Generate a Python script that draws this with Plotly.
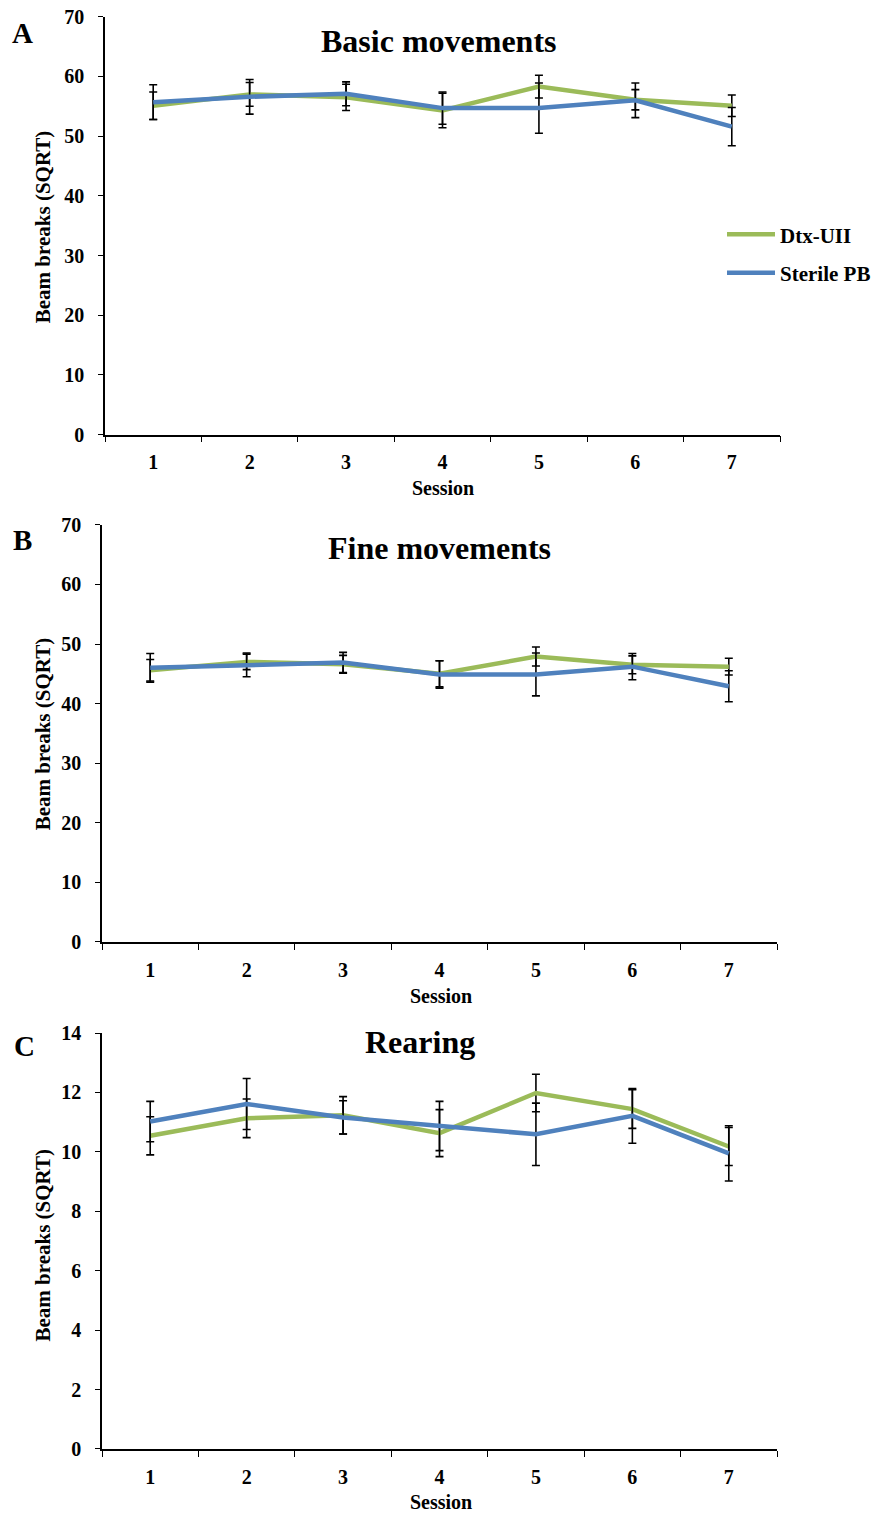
import plotly.graph_objects as go

sessions = ["1", "2", "3", "4", "5", "6", "7"]

dtx_basic = [55.1, 57.0, 56.5, 54.3, 58.3, 56.1, 55.1]
dtx_basic_err = [2.3, 2.0, 2.2, 2.9, 1.9, 1.7, 1.8]
pb_basic = [55.7, 56.6, 57.1, 54.7, 54.7, 56.0, 51.6]
pb_basic_err = [2.9, 2.9, 2.0, 2.7, 4.2, 2.9, 3.2]

dtx_fine = [45.6, 47.0, 46.6, 45.0, 47.9, 46.5, 46.2]
dtx_fine_err = [1.8, 1.3, 1.5, 2.2, 1.6, 1.5, 1.4]
pb_fine = [46.0, 46.5, 46.9, 44.9, 44.9, 46.2, 42.9]
pb_fine_err = [2.4, 2.0, 1.7, 2.3, 3.6, 2.2, 2.6]

dtx_rear = [10.54, 11.13, 11.23, 10.63, 11.98, 11.44, 10.18]
dtx_rear_err = [0.64, 0.65, 0.63, 0.79, 0.63, 0.65, 0.64]
pb_rear = [11.02, 11.61, 11.16, 10.87, 10.59, 11.21, 9.95]
pb_rear_err = [0.68, 0.86, 0.56, 0.83, 1.05, 0.92, 0.93]

panels = [
    ("A", "Basic movements", dtx_basic, dtx_basic_err, pb_basic, pb_basic_err, 70, 10),
    ("B", "Fine movements", dtx_fine, dtx_fine_err, pb_fine, pb_fine_err, 70, 10),
    ("C", "Rearing", dtx_rear, dtx_rear_err, pb_rear, pb_rear_err, 14, 2),
]

GREEN = "#9BBB59"
BLUE = "#4F81BD"
FONT = "Liberation Serif"
W, H = 886, 1515


def py(y):
    # pixel row (from top) -> paper fraction, with small vertical correction
    yc = 733 + (y - 733) * 1.017
    return 1 - yc / H


# pixel layout per panel: (x0, x1, ytop, ybottom)
boxes = [(105, 780, 18, 435), (102, 777, 525, 941), (102, 777, 1032, 1447)]
title_pos = [(439, 42), (439, 548), (420, 1041)]
letter_pos = [(22, 34), (22, 540), (24, 1045)]
ytitle_pos = [(43, 228), (43, 734), (43, 1244)]
session_pos = [(443, 488), (441, 995), (441, 1500)]

fig = go.Figure()
annotations = []

for i, (letter, title, g, ge, b, be, ymax, dt) in enumerate(panels):
    n = "" if i == 0 else str(i + 1)
    xa, ya = "x" + n, "y" + n
    for name, vals, errs, color in (("Dtx-UII", g, ge, GREEN), ("Sterile PB", b, be, BLUE)):
        fig.add_trace(go.Scatter(
            x=sessions, y=vals, mode="lines", name=name,
            line=dict(color=color, width=4.5),
            error_y=dict(type="data", array=errs, visible=True, color="black", thickness=1.6, width=4),
            xaxis=xa, yaxis=ya, showlegend=(i == 0), legendgroup=name,
        ))
    x0, x1, yt, yb = boxes[i]
    axis_common = dict(showgrid=False, zeroline=False, showline=True, linecolor="black", linewidth=1.5,
                       ticks="outside", tickcolor="black", tickwidth=1.3,
                       tickfont=dict(family=FONT, size=20, color="black", weight="bold"))
    fig.update_layout(**{
        ("xaxis" + n): dict(domain=[x0 / W, x1 / W], anchor=ya, type="category",
                            range=[-0.5, 6.5], tickson="boundaries", ticklen=6,
                            ticklabelstandoff=9, **axis_common),
        ("yaxis" + n): dict(domain=[py(yb), py(yt)], anchor=xa, range=[0, ymax],
                            dtick=dt, ticklen=5, ticklabelstandoff=10, **axis_common),
    })
    tx, ty = title_pos[i]
    annotations.append(dict(text=title, x=tx / W, y=py(ty), xref="paper", yref="paper",
                            showarrow=False, xanchor="center", yanchor="middle",
                            font=dict(family=FONT, size=32, color="black", weight="bold")))
    lx, ly = letter_pos[i]
    annotations.append(dict(text=letter, x=lx / W, y=py(ly), xref="paper", yref="paper",
                            showarrow=False, xanchor="center", yanchor="middle",
                            font=dict(family=FONT, size=29, color="black", weight="bold")))
    yx, yy = ytitle_pos[i]
    annotations.append(dict(text="Beam breaks (SQRT)", x=yx / W, y=py(yy), xref="paper", yref="paper",
                            showarrow=False, xanchor="center", yanchor="middle", textangle=-90,
                            font=dict(family=FONT, size=21, color="black", weight="bold")))
    sx, sy = session_pos[i]
    annotations.append(dict(text="Session", x=sx / W, y=py(sy), xref="paper", yref="paper",
                            showarrow=False, xanchor="center", yanchor="middle",
                            font=dict(family=FONT, size=20, color="black", weight="bold")))

fig.update_layout(
    width=W, height=H, margin=dict(l=0, r=0, t=0, b=0),
    paper_bgcolor="white", plot_bgcolor="white",
    annotations=annotations,
    legend=dict(x=722 / W, y=py(215), xanchor="left", yanchor="top",
                font=dict(family=FONT, size=21, color="black", weight="bold"),
                itemwidth=48, tracegroupgap=8, bgcolor="rgba(0,0,0,0)"),
)

fig.write_html("out.html")
